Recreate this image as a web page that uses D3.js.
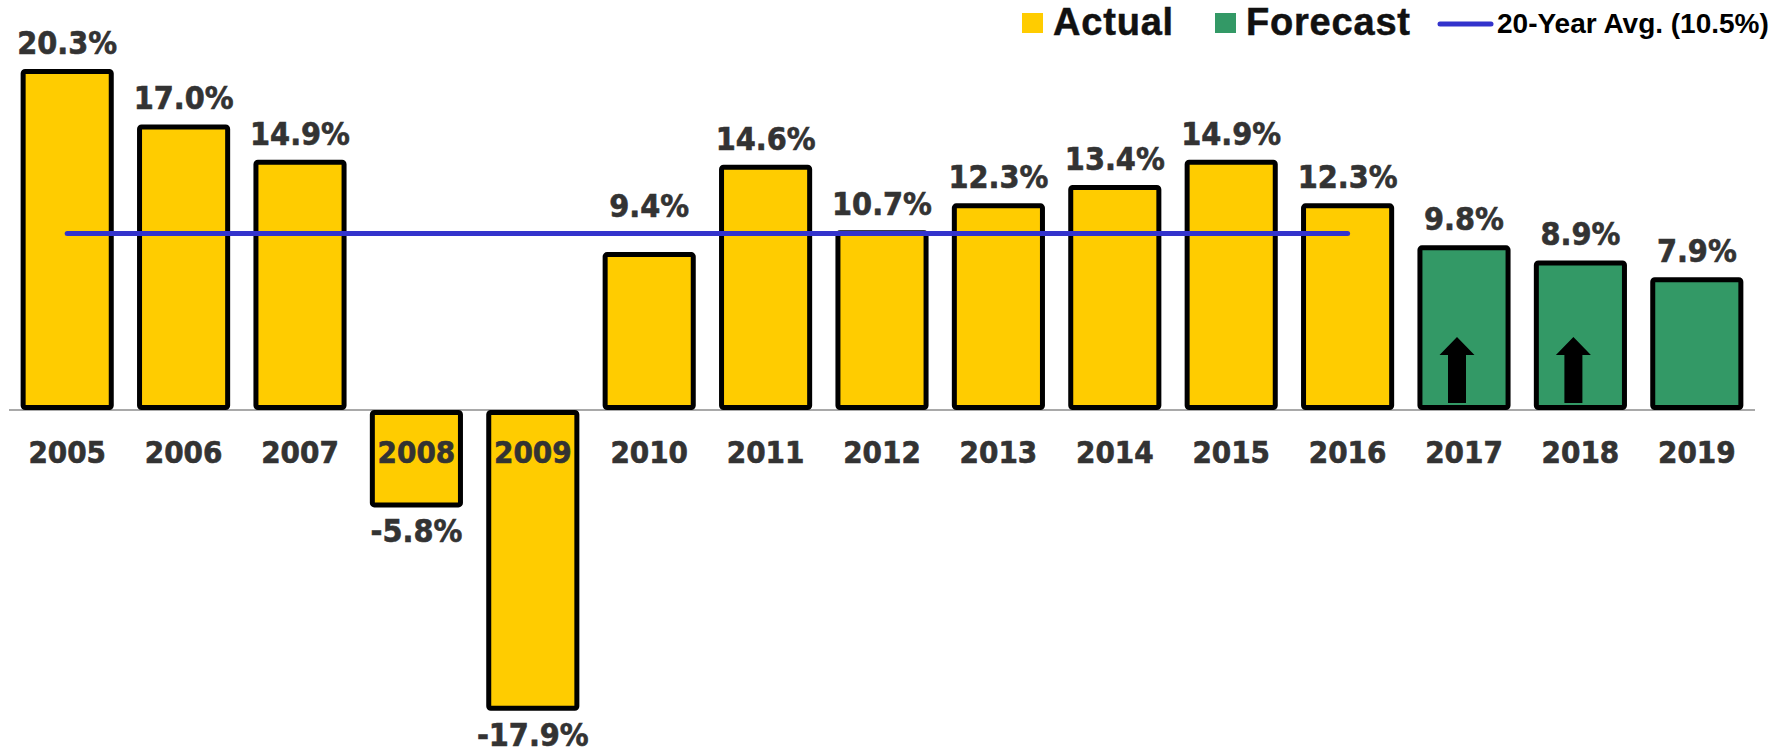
<!DOCTYPE html>
<html>
<head>
<meta charset="utf-8">
<script src="https://cdn.jsdelivr.net/npm/d3@7"></script>
<style>
  html, body { margin: 0; padding: 0; background: #ffffff; }
  #chart { width: 1789px; height: 755px; }
</style>
</head>
<body>
<div id="chart"></div>
<script>
const years = ["2005", "2006", "2007", "2008", "2009", "2010", "2011", "2012",
  "2013", "2014", "2015", "2016", "2017", "2018", "2019"];
const growth = [20.3, 17.0, 14.9, -5.8, -17.9, 9.4, 14.6, 10.7, 12.3, 13.4, 14.9, 12.3, 9.8, 8.9, 7.9];
const kind = ["Actual", "Actual", "Actual", "Actual", "Actual", "Actual", "Actual", "Actual",
  "Actual", "Actual", "Actual", "Actual", "Forecast", "Forecast", "Forecast"];
const upArrow = ["2017", "2018"];
const avgValue = 10.5;
const avgFrom = "2005";
const avgTo = "2016";
const legendItems = ["Actual", "Forecast"];
const avgLabel = "20-Year Avg. (10.5%)";

const width = 1789;
const height = 755;

const colors = { Actual: "#ffcc00", Forecast: "#339966" };
const labelFont = "'DejaVu Sans Condensed', 'DejaVu Sans', Verdana, sans-serif";
const legendFont = "'Liberation Sans', Arial, sans-serif";

const data = years.map((year, i) => ({ year, value: growth[i], kind: kind[i] }));

const svg = d3.select("#chart")
  .append("svg")
  .attr("width", width)
  .attr("height", height)
  .attr("viewBox", `0 0 ${width} ${height}`)
  .style("display", "block");

const x = d3.scaleBand()
  .domain(years)
  .range([9, 1755])
  .paddingInner(0.2)
  .paddingOuter(0.1);

const y = d3.scaleLinear()
  .domain([-20, 22.5])
  .range([746, 32]);

const stroke = 5;
const avgY = y(avgValue);
const inAvgSpan = (year) => years.indexOf(year) >= years.indexOf(avgFrom) &&
  years.indexOf(year) <= years.indexOf(avgTo);

// zero line
svg.append("line")
  .attr("x1", 9)
  .attr("x2", 1755)
  .attr("y1", y(0))
  .attr("y2", y(0))
  .attr("stroke", "#555555")
  .attr("stroke-width", 1.2);

svg.selectAll(".bar")
  .data(data)
  .enter()
  .append("rect")
  .attr("class", "bar")
  .attr("x", (d) => x(d.year) + stroke / 2)
  .attr("width", x.bandwidth() - stroke)
  .attr("y", (d) => Math.min(y(d.value), y(0)) + stroke / 2)
  .attr("height", (d) => Math.abs(y(d.value) - y(0)) - stroke)
  .attr("rx", 2)
  .attr("fill", (d) => colors[d.kind])
  .attr("stroke", "#000000")
  .attr("stroke-width", stroke);

// up arrows in forecast bars
const arrowPath = "M-9,0 L-9,-48 L-17.5,-48 L0,-66 L17.5,-48 L9,-48 L9,0 Z";
svg.selectAll(".arrow")
  .data(data.filter((d) => upArrow.includes(d.year)))
  .enter()
  .append("path")
  .attr("class", "arrow")
  .attr("d", arrowPath)
  .attr("transform", (d) => `translate(${x(d.year) + x.bandwidth() / 2 - 7}, ${y(0) - 7})`)
  .attr("fill", "#000000");

// average line
svg.append("line")
  .attr("x1", x(avgFrom) + x.bandwidth() / 2)
  .attr("x2", x(avgTo) + x.bandwidth() / 2)
  .attr("y1", avgY)
  .attr("y2", avgY)
  .attr("stroke", "#3333cc")
  .attr("stroke-width", 5)
  .attr("stroke-linecap", "round");

// value labels, lifted over the average line where they would cross it
const labelY = (d) => {
  if (d.value < 0) return y(d.value) + 35;
  let base = y(d.value) - 15;
  if (inAvgSpan(d.year) && base > avgY - 4 && base - 24 < avgY + 4) base = avgY - 17;
  return base;
};

svg.selectAll(".value-label")
  .data(data)
  .enter()
  .append("text")
  .attr("class", "value-label")
  .attr("x", (d) => x(d.year) + x.bandwidth() / 2)
  .attr("y", labelY)
  .attr("text-anchor", "middle")
  .style("font-family", labelFont)
  .style("font-weight", "bold")
  .style("font-size", "32px")
  .style("fill", "#333333")
  .style("stroke", "#333333")
  .style("stroke-width", 0.6)
  .text((d) => `${d.value.toFixed(1)}%`);

// year labels
svg.selectAll(".year-label")
  .data(years)
  .enter()
  .append("text")
  .attr("class", "year-label")
  .attr("x", (d) => x(d) + x.bandwidth() / 2)
  .attr("y", y(0) + 53)
  .attr("text-anchor", "middle")
  .style("font-family", labelFont)
  .style("font-weight", "bold")
  .style("font-size", "31px")
  .style("fill", "#333333")
  .style("stroke", "#333333")
  .style("stroke-width", 0.6)
  .text((d) => d);

// legend
const legend = svg.append("g").attr("class", "legend");
const legendX = [1022, 1215];

legend.selectAll(".legend-swatch")
  .data(legendItems)
  .enter()
  .append("rect")
  .attr("class", "legend-swatch")
  .attr("x", (d, i) => legendX[i])
  .attr("y", 13)
  .attr("width", 21)
  .attr("height", 20)
  .attr("fill", (d) => colors[d]);

legend.selectAll(".legend-label")
  .data(legendItems)
  .enter()
  .append("text")
  .attr("class", "legend-label")
  .attr("x", (d, i) => legendX[i] + 31)
  .attr("y", 35)
  .style("font-family", legendFont)
  .style("font-weight", "bold")
  .style("font-size", "38px")
  .style("letter-spacing", "0.8px")
  .style("fill", "#111111")
  .style("stroke", "#111111")
  .style("stroke-width", 0.5)
  .text((d) => d);

legend.append("line")
  .attr("x1", 1440)
  .attr("x2", 1491)
  .attr("y1", 24)
  .attr("y2", 24)
  .attr("stroke", "#3333cc")
  .attr("stroke-width", 5)
  .attr("stroke-linecap", "round");

legend.append("text")
  .attr("x", 1497)
  .attr("y", 33)
  .style("font-family", legendFont)
  .style("font-weight", "bold")
  .style("font-size", "28px")
  .style("fill", "#000000")
  .text(avgLabel);
</script>
</body>
</html>
